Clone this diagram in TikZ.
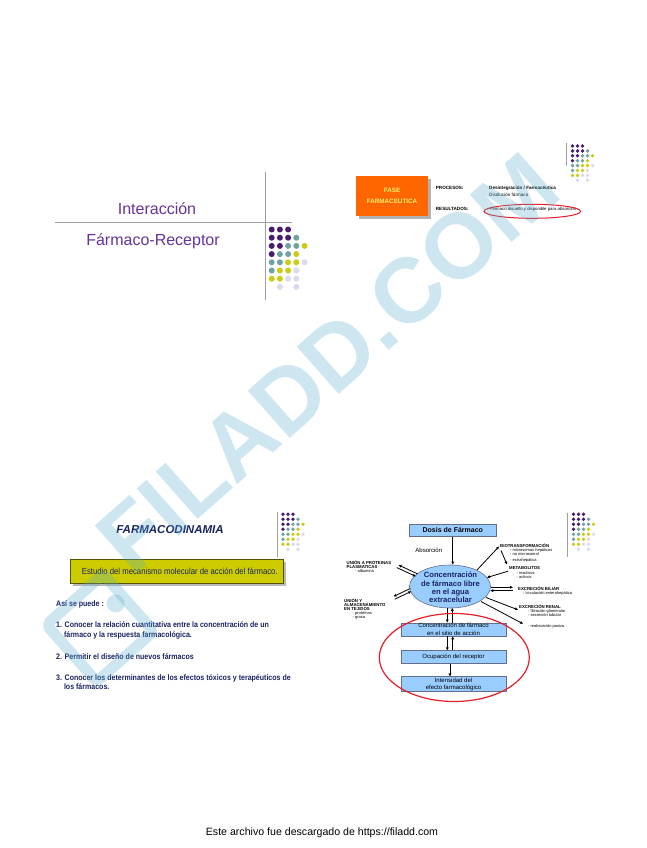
\documentclass[tikz,border=0pt]{standalone}
\usepackage{fontspec}
\setmainfont{Liberation Sans}
\newfontfamily\narrowfont[FakeStretch=0.88]{Liberation Sans}
\usetikzlibrary{arrows.meta,shapes.geometric}
\definecolor{dP}{RGB}{72,28,110}
\definecolor{dT}{RGB}{112,163,163}
\definecolor{dY}{RGB}{204,204,20}
\definecolor{dL}{RGB}{218,218,238}
\definecolor{ttl}{RGB}{102,51,153}
\definecolor{navy}{RGB}{25,35,100}
\definecolor{boxblue}{RGB}{153,204,255}
\definecolor{boxline}{RGB}{100,110,140}
\definecolor{fase}{RGB}{255,102,0}
\definecolor{faset}{RGB}{255,240,110}
\definecolor{estbox}{RGB}{204,204,0}
\definecolor{wm}{RGB}{91,175,208}
\definecolor{rring}{RGB}{230,30,40}
\definecolor{sepline}{RGB}{160,160,160}
\newcommand\dotgrid[5]{%
  \foreach \cc/\rr/\kk in {0/0/dP,1/0/dP,2/0/dP,0/1/dP,1/1/dP,2/1/dP,3/1/dT,0/2/dP,1/2/dP,2/2/dT,3/2/dT,4/2/dY,0/3/dP,1/3/dT,2/3/dT,3/3/dY,0/4/dT,1/4/dT,2/4/dY,3/4/dY,4/4/dL,0/5/dT,1/5/dY,2/5/dY,3/5/dL,0/6/dY,1/6/dY,2/6/dL,3/6/dL,1/7/dL,3/7/dL}
  {\fill[\kk] ({#1+\cc*#3},{#2+\rr*#4}) circle[radius=#5];}}
\begin{document}
\begin{tikzpicture}[x=1pt,y=-1pt,
  lbl/.style={inner sep=0pt, anchor=north west, align=left, text=black},
  lblb/.style={lbl, font=\fontsize{4.3}{4.1}\bfseries\selectfont},
  lbls/.style={lbl, font=\fontsize{4.0}{3.9}\selectfont},
  bbox/.style={draw=boxline, fill=boxblue, line width=0.5pt, minimum width=105pt, inner sep=0pt, align=center, font=\fontsize{6}{7.3}\selectfont},
  arr/.style={-{Triangle[length=3pt,width=2.6pt]}, line width=0.8pt},
  sep/.style={draw=sepline, line width=0.6pt},
  listtxt/.style={inner sep=0pt, anchor=west, text=navy, font=\narrowfont\fontsize{8}{9.3}\bfseries\selectfont, align=left},
  wmark/.style={wm, opacity=0.3},
  ]
\fill[white] (0,0) rectangle (646,848);
\useasboundingbox (0,0) rectangle (646,848);

% ---------- slide 1 ----------
\draw[sep] (265,172) -- (265,300);
\draw[sep] (55,222) -- (292,222);
\dotgrid{271.7}{229.5}{8.2}{8.2}{3}
\node[text=ttl, font=\fontsize{16}{19}\selectfont, inner sep=0] (t1) at (157,209) {Interacción};
\node[text=ttl, font=\fontsize{16}{19}\selectfont, inner sep=0] (t2) at (153,241) {Fármaco-Receptor};

% ---------- slide 2 ----------
\draw[sep] (566.5,143) -- (566.5,166);
\dotgrid{572.5}{146}{5}{4.9}{1.9}
\fill[gray!60] (358.5,178.5) rectangle (431,218.5);
\node[fill=fase, minimum width=72.6pt, minimum height=40pt, inner sep=0, align=center, text=faset, font=\fontsize{6.3}{10.7}\bfseries\selectfont] (fase) at (392,195.7) {FASE\\FARMACEUTICA};
\node[lbl, anchor=west, font=\fontsize{4.6}{5}\bfseries\selectfont] (proc) at (435.7,188.3) {PROCESOS:};
\node[lbl, anchor=north west, font=\fontsize{4.6}{7}\bfseries\selectfont] (procv) at (489,186.3) {Desintegración / Farmacéutica\\\mdseries Disolución fármaco};
\node[lbl, anchor=west, font=\fontsize{4.6}{5}\bfseries\selectfont] (res) at (435.7,209.3) {RESULTADOS:};
\node[lbl, anchor=center, font=\fontsize{4.3}{5}\selectfont] (resv) at (533,209.8) {Fármaco disuelto y disponible para absorción};
\draw[rring, line width=1pt] (532.3,211.3) ellipse[x radius=48.3, y radius=7];

% ---------- slide 3 ----------
\draw[sep] (277,512) -- (277,557);
\dotgrid{283}{514.3}{5}{5}{1.9}
\node[text=navy, font=\fontsize{11.5}{13}\bfseries\itshape\selectfont, inner sep=0] (fd) at (170,530) {FARMACODINAMIA};
\fill[gray!55] (72.5,561.8) rectangle (285.8,585.8);
\node[draw=black!60!estbox, line width=0.7pt, fill=estbox, minimum width=213.3pt, minimum height=24pt, inner sep=0] (est) at (176.7,571.3) {};
\node[inner sep=0, anchor=west, text=navy, font=\narrowfont\fontsize{8.8}{10}\selectfont] (estt) at (81.7,571.3) {Estudio del mecanismo molecular de acción del fármaco.};
\node[listtxt] (asi) at (56,604) {Así se puede :};
\node[listtxt, anchor=north west] (l1) at (56,621.8) {1. Conocer la relación cuantitativa entre la concentración de un\\\hspace*{7.8pt}fármaco y la respuesta farmacológica.};
\node[listtxt] (l2) at (56,656.7) {2. Permitir el diseño de nuevos fármacos};
\node[listtxt, anchor=north west] (l3) at (56,674.1) {3. Conocer los determinantes de los efectos tóxicos y terapéuticos de\\\hspace*{7.8pt}los fármacos.};

% ---------- slide 4 ----------
\draw[sep] (567.3,512.5) -- (567.3,557);
\dotgrid{573.5}{514.3}{5}{5}{1.9}
\node[bbox, minimum width=87.7pt, minimum height=12.7pt, font=\fontsize{7}{8}\bfseries\selectfont] (dosis) at (452.8,530.3) {Dosis de Fármaco};
\node[ellipse, draw=boxline, fill=boxblue, line width=0.6pt, minimum width=81pt, minimum height=43pt, inner sep=0] (conc) at (450,586.5) {};
\node[inner sep=0, align=center, text=navy, font=\fontsize{7.6}{8.3}\bfseries\selectfont] (conct) at (450.5,587.6) {Concentración\\de fármaco libre\\en el agua\\extracelular};
\node[bbox, minimum height=13.3pt] (box2) at (453.5,629.4) {Concentración de fármaco\\en el sitio de acción};
\node[bbox, minimum height=12.6pt] (box3) at (453.5,657) {Ocupación del receptor};
\node[bbox, minimum height=15pt] (box4) at (453.5,684.2) {Intensidad del\\efecto farmacológico};
\node[inner sep=0, font=\fontsize{6}{7}\selectfont] (abs) at (428.8,550) {Absorción};

\node[lblb] (uprot) at (346.5,560) {UNIÓN A PROTEINAS\\PLASMATICAS};
\node[lbls] (uprots) at (355,569.2) {- albumina};
\node[lblb] (ualm) at (344,598.5) {UNIÓN Y\\ALMACENAMIENTO\\EN TEJIDOS};
\node[lbls] (ualms) at (352.5,611) {- proteínas\\- grasa};
\node[lblb] (bio) at (500,543.4) {BIOTRANSFORMACIÓN};
\node[lbls] (bios) at (510,548.2) {- microsomas hepáticos\\- no microsomal};
\node[lbls] (bios2) at (510,558.5) {- extrahepática};
\node[lblb] (meta) at (509,566.5) {METABOLITOS};
\node[lbls] (metas) at (516.5,571.6) {- inactivos\\- activos};
\node[lblb] (bil) at (518,586.5) {EXCRECIÓN BILIAR};
\node[lbls] (bils) at (523,591.7) {- circulación enterohepática};
\node[lblb] (ren) at (519,604.2) {EXCRECIÓN RENAL};
\node[lbls] (rens) at (528,609.6) {- filtración glomerular\\- secreción tubular};
\node[lbls] (reab) at (528,624.3) {- reabsorción pasiva};

% connectors
\draw[arr] (dosis.south) -- (dosis.south |- conc.north);
\coordinate (eb1) at (447.3,607.6);
\coordinate (eb2) at (452.3,607.9);
\draw[arr] (eb1) -- (eb1 |- box2.north);
\draw[arr] (eb2 |- box2.north) -- (eb2);
\draw[arr] ([xshift=-6.2pt]box2.south) -- ([xshift=-6.2pt]box3.north);
\draw[arr] ([xshift=-0.8pt]box3.north) -- ([xshift=-0.8pt]box2.south);
\draw[arr] ([xshift=-3.5pt]box3.south) -- ([xshift=-3.5pt]box4.north);

\coordinate (pA1) at (417.5,573.8); \coordinate (pA2) at (398.5,565);
\coordinate (pB1) at (396.8,567.6); \coordinate (pB2) at (415.8,576.4);
\draw[arr] (pA1) -- (pA2);
\draw[arr] (pB1) -- (pB2);
\coordinate (aA1) at (410.3,588.5); \coordinate (aA2) at (393.5,596.5);
\coordinate (aB1) at (394.8,599.2); \coordinate (aB2) at (411.2,591.4);
\draw[arr] (aA1) -- (aA2);
\draw[arr] (aB1) -- (aB2);
\coordinate (bi1) at (477,570); \coordinate (bi2) at (499,546.5);
\draw[arr] (bi1) -- (bi2);
\coordinate (bm1) at (501,550.5); \coordinate (bm2) at (507,564.5);
\draw[arr] (bm1) -- (bm2);
\coordinate (me1) at (508,571.2); \coordinate (me2) at (487,577.5);
\draw[arr] (me1) -- (me2);
\coordinate (bl1) at (490.5,587.2); \coordinate (bl2) at (513,587.2);
\coordinate (bl3) at (513,590.6); \coordinate (bl4) at (490.3,590.6);
\draw[arr] (bl1) -- (bl2);
\draw[arr] (bl3) -- (bl4);
\coordinate (rn1) at (486,597.5); \coordinate (rn2) at (518,609.8);
\draw[arr] (rn1) -- (rn2);
\coordinate (ra1) at (481,601.5); \coordinate (ra2) at (523,623.8);
\draw[arr] (ra1) -- (ra2);
\draw[rring, line width=1.2pt] (454.3,657.5) ellipse[x radius=75, y radius=44];

% ---------- watermark ----------
\node[rotate=41.5, anchor=base west, inner sep=0, text=wm, opacity=0.3, font=\fontsize{92}{92}\bfseries\selectfont] (wmk) at (132,578) {FILADD.COM};
\begin{scope}[rotate around={41.5:(100,628)}]
  \draw[wmark, line width=11pt, rounded corners=6pt] (62,590) rectangle (138,666);
  \fill[wmark] (128,620) circle[radius=9];
\end{scope}

% ---------- footer ----------
\node[inner sep=0, font=\fontsize{10.6}{12}\selectfont] (foot) at (322,833) {Este archivo fue descargado de https://filadd.com};
\end{tikzpicture}
\end{document}
